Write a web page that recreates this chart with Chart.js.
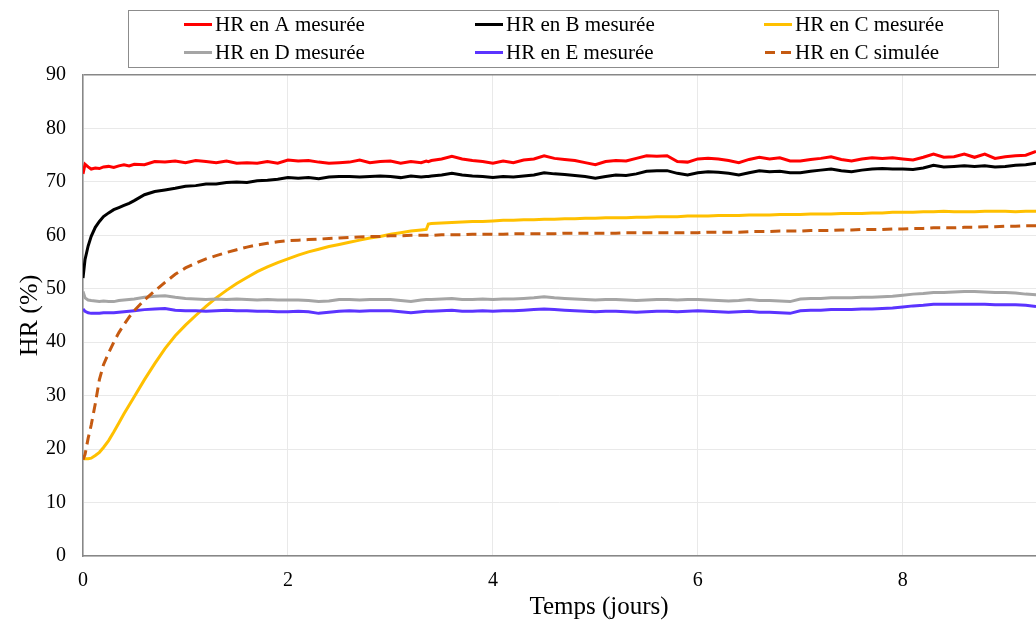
<!DOCTYPE html>
<html>
<head>
<meta charset="utf-8">
<script src="https://cdn.jsdelivr.net/npm/chart.js@4.4.1/dist/chart.umd.min.js"></script>
<style>
html,body{margin:0;padding:0;background:#fff;}
#wrap{position:relative;width:1036px;height:622px;}
</style>
</head>
<body>
<div id="wrap"><canvas id="c" width="1036" height="622"></canvas></div>
<script>
// ---- data ----
const days = [0,0.02,0.05,0.08,0.12,0.16,0.2,0.25,0.3,0.35,0.4,0.45,0.5,
0.6,0.7,0.8,0.9,1.0,1.1,1.2,1.3,1.4,1.5,1.6,1.7,1.8,1.9,2.0,2.1,2.2,2.3,2.4,2.5,2.6,2.7,2.8,2.9,3.0,3.1,3.2,3.3,3.35,3.37,
3.4,3.5,3.6,3.7,3.8,3.9,4.0,4.1,4.2,4.3,4.4,4.5,4.6,4.7,4.8,4.9,5.0,5.1,5.2,5.3,5.4,5.5,5.6,5.7,5.8,5.9,6.0,
6.1,6.2,6.3,6.4,6.5,6.6,6.7,6.8,6.9,7.0,7.1,7.2,7.3,7.4,7.5,7.6,7.7,7.8,7.9,8.0,8.1,8.2,8.3,8.4,8.5,8.6,8.7,8.8,8.9,9.0,9.1,9.2,9.3];

const hrA = [71.5,73.3,72.8,72.4,72.6,72.5,72.8,72.9,72.7,73.0,73.2,73.0,73.3,
73.2,73.8,73.7,73.9,73.6,74.0,73.8,73.6,73.9,73.5,73.6,73.5,73.8,73.5,74.1,73.9,74.0,73.7,73.5,73.6,73.7,74.1,73.6,73.8,73.9,73.5,73.8,73.6,73.9,73.8,
74.0,74.3,74.8,74.3,74.0,73.8,73.5,73.9,73.6,74.1,74.3,74.9,74.4,74.2,74.0,73.6,73.2,73.8,74.0,73.9,74.4,74.9,74.8,74.9,73.8,73.7,74.3,
74.4,74.3,74.0,73.6,74.2,74.6,74.3,74.5,73.9,73.9,74.2,74.4,74.7,74.2,73.9,74.3,74.5,74.4,74.5,74.3,74.1,74.6,75.2,74.6,74.7,75.2,74.6,75.2,74.4,74.7,74.9,75.0,75.7];

const hrB = [52.0,55.5,58.0,59.8,61.5,62.6,63.5,64.2,64.8,65.2,65.6,66.0,66.5,
67.6,68.2,68.5,68.8,69.2,69.3,69.6,69.6,69.9,70.0,69.9,70.2,70.3,70.5,70.8,70.7,70.8,70.6,70.9,71.0,71.0,70.9,71.0,71.1,71.0,70.8,71.1,70.9,71.0,71.0,
71.1,71.3,71.6,71.3,71.1,71.0,70.8,71.0,70.9,71.1,71.3,71.7,71.5,71.4,71.2,71.0,70.7,71.0,71.3,71.2,71.5,72.0,72.1,72.1,71.6,71.3,71.7,
71.9,71.8,71.6,71.3,71.7,72.1,71.9,72.0,71.7,71.7,72.0,72.2,72.4,72.1,71.9,72.2,72.4,72.5,72.4,72.4,72.3,72.6,73.1,72.8,72.9,73.0,72.9,73.0,72.8,72.9,73.1,73.2,73.5];

const hrC = [18.3,18.2,18.2,18.3,18.8,19.4,20.3,21.6,23.2,24.9,26.6,28.2,29.8,
33.0,36.0,38.8,41.2,43.2,45.0,46.7,48.3,49.7,51.0,52.1,53.2,54.1,54.9,55.6,56.3,56.9,57.4,57.9,58.3,58.7,59.1,59.5,59.8,60.2,60.5,60.8,61.0,61.1,62.1,
62.2,62.3,62.4,62.5,62.6,62.6,62.7,62.8,62.8,62.9,62.9,63.0,63.0,63.1,63.1,63.2,63.2,63.3,63.3,63.3,63.4,63.4,63.5,63.5,63.5,63.6,63.6,
63.6,63.7,63.7,63.7,63.8,63.8,63.8,63.9,63.9,63.9,64.0,64.0,64.0,64.1,64.1,64.1,64.2,64.2,64.3,64.3,64.3,64.4,64.4,64.5,64.4,64.4,64.4,64.5,64.5,64.5,64.4,64.5,64.5];

const hrD = [49.5,48.3,47.9,47.8,47.7,47.6,47.7,47.6,47.6,47.8,47.9,48.0,48.1,
48.4,48.6,48.7,48.4,48.2,48.1,48.0,48.1,48.0,48.1,48.0,47.9,48.0,47.9,47.9,47.9,47.8,47.6,47.7,48.0,48.0,47.9,48.0,48.0,48.0,47.8,47.6,47.9,48.0,48.0,
48.0,48.1,48.2,48.0,48.0,48.1,48.0,48.1,48.1,48.2,48.3,48.5,48.3,48.2,48.1,48.0,47.9,48.0,48.0,47.9,47.8,47.9,48.0,48.0,47.9,48.0,48.0,
47.9,47.8,47.7,47.8,48.0,47.8,47.8,47.7,47.6,48.1,48.2,48.2,48.3,48.3,48.3,48.4,48.4,48.5,48.6,48.8,49.0,49.1,49.3,49.3,49.4,49.5,49.5,49.4,49.3,49.3,49.2,49.0,48.9];

const hrE = [46.2,45.8,45.5,45.4,45.4,45.4,45.5,45.5,45.5,45.6,45.7,45.8,45.9,
46.1,46.2,46.3,46.0,45.9,45.9,45.8,45.9,46.0,45.9,45.9,45.8,45.8,45.7,45.7,45.8,45.7,45.4,45.6,45.8,45.9,45.8,45.9,45.9,45.9,45.7,45.5,45.7,45.8,45.8,
45.8,45.9,46.0,45.8,45.8,45.9,45.8,45.9,45.9,46.0,46.1,46.2,46.1,46.0,45.9,45.8,45.7,45.8,45.8,45.7,45.6,45.7,45.8,45.8,45.7,45.8,45.9,
45.8,45.7,45.6,45.7,45.8,45.6,45.6,45.5,45.4,45.9,46.0,46.0,46.1,46.1,46.1,46.2,46.2,46.3,46.4,46.6,46.8,46.9,47.1,47.1,47.1,47.1,47.1,47.1,47.0,47.0,47.0,46.9,46.7];

const hrCsim = [18.0,19.0,22.0,24.5,28.5,33.0,35.8,38.0,40.0,41.8,43.3,44.7,45.9,
47.9,49.6,51.2,52.7,53.9,54.8,55.6,56.2,56.8,57.3,57.8,58.2,58.5,58.8,59.0,59.1,59.2,59.3,59.4,59.5,59.6,59.7,59.8,59.8,59.9,59.9,60.0,60.0,60.0,60.0,
60.0,60.1,60.1,60.1,60.2,60.2,60.2,60.2,60.3,60.3,60.3,60.3,60.3,60.4,60.4,60.4,60.4,60.4,60.4,60.5,60.5,60.5,60.5,60.5,60.5,60.5,60.5,
60.6,60.6,60.6,60.6,60.7,60.7,60.7,60.8,60.8,60.8,60.9,60.9,60.9,61.0,61.0,61.1,61.1,61.1,61.2,61.2,61.3,61.3,61.4,61.4,61.4,61.5,61.5,61.6,61.6,61.7,61.7,61.8,61.8];

const xTicks = [0,2,4,6,8];
const yTicks = [0,10,20,30,40,50,60,70,80,90];
const seriesNames = ['HR en A mesurée','HR en B mesurée','HR en C mesurée','HR en D mesurée','HR en E mesurée','HR en C simulée'];
const seriesColors = ['#FF0000','#000000','#FFC000','#A5A5A5','#5B34FF','#C55A11'];
const seriesData = [hrA,hrB,hrC,hrD,hrE,hrCsim];
const xTitle = 'Temps (jours)';
const yTitle = 'HR (%)';

// ---- chart ----
const FONT = "'Liberation Serif','Times New Roman',serif";
const datasets = seriesData.map((arr,i)=>({
  label: seriesNames[i],
  data: days.map((d,k)=>({x:d,y:arr[k]})),
  borderColor: seriesColors[i],
  backgroundColor: seriesColors[i],
  borderWidth: 3,
  borderDash: i===5 ? [10,6] : [],
  pointRadius: 0,
  tension: 0,
  fill: false
}));
const order = [5,3,4,2,1,0];
order.forEach((idx,k)=>{ datasets[idx].order = k; });

const legendPlugin = {
  id: 'boxLegend',
  afterDraw(chart){
    const ctx = chart.ctx;
    ctx.save();
    ctx.strokeStyle = '#8c8c8c';
    ctx.lineWidth = 1;
    ctx.strokeRect(128.5,10.5,870,57);
    const cols = [184,475,764];
    const rows = [24.5,52.5];
    ctx.font = "21px " + FONT;
    ctx.textBaseline = 'middle';
    ctx.fillStyle = '#000';
    seriesNames.forEach((name,i)=>{
      const cx = cols[i%3], cy = rows[Math.floor(i/3)];
      ctx.beginPath();
      ctx.strokeStyle = seriesColors[i];
      ctx.lineWidth = 3;
      if(i===5) ctx.setLineDash([10,6]); else ctx.setLineDash([]);
      if(i===5){ ctx.moveTo(cx+1,cy); ctx.lineTo(cx+29,cy); }
      else { ctx.moveTo(cx,cy); ctx.lineTo(cx+28,cy); }
      ctx.stroke();
      ctx.setLineDash([]);
      ctx.fillText(name, cx+31, cy+1);
    });
    // x-axis title: in the source it is centred on the full (uncropped) axis
    ctx.font = "25px " + FONT;
    ctx.textAlign = 'center';
    ctx.textBaseline = 'middle';
    ctx.fillText(xTitle, 599, 607);
    ctx.restore();
  }
};

new Chart(document.getElementById('c'), {
  type: 'line',
  data: { datasets },
  plugins: [legendPlugin],
  options: {
    responsive: false,
    animation: false,
    devicePixelRatio: 1,
    layout: { padding: { top: 75, right: 0, bottom: 0, left: 0 } },
    plugins: { legend: { display: false }, tooltip: { enabled: false } },
    scales: {
      x: {
        type: 'linear',
        min: 0, max: 9.3,
        afterBuildTicks: s => { s.ticks = xTicks.map(v=>({value:v})); },
        afterFit: s => { s.height = 66; },
        grid: { color: '#e9e9e9', lineWidth: 1, drawTicks: false },
        border: { display: true, color: '#878787', width: 1.5 },
        ticks: { color: '#000', font: { family: FONT, size: 20 }, padding: 13, maxRotation: 0 },
        title: { display: false }
      },
      y: {
        min: 0, max: 90,
        afterBuildTicks: s => { s.ticks = yTicks.map(v=>({value:v})); },
        afterFit: s => { s.width = 83; },
        grid: { color: c => (c.tick && c.tick.value === 90) ? '#878787' : '#e9e9e9', lineWidth: c => (c.tick && c.tick.value === 90) ? 1.5 : 1, drawTicks: false },
        border: { display: true, color: '#878787', width: 1.5 },
        ticks: { color: '#000', font: { family: FONT, size: 20 }, padding: 17 },
        title: { display: true, text: yTitle, color: '#000', font: { family: FONT, size: 26, lineHeight: 1.2 }, padding: { top: 15, bottom: 0 } }
      }
    }
  }
});
</script>
</body>
</html>
